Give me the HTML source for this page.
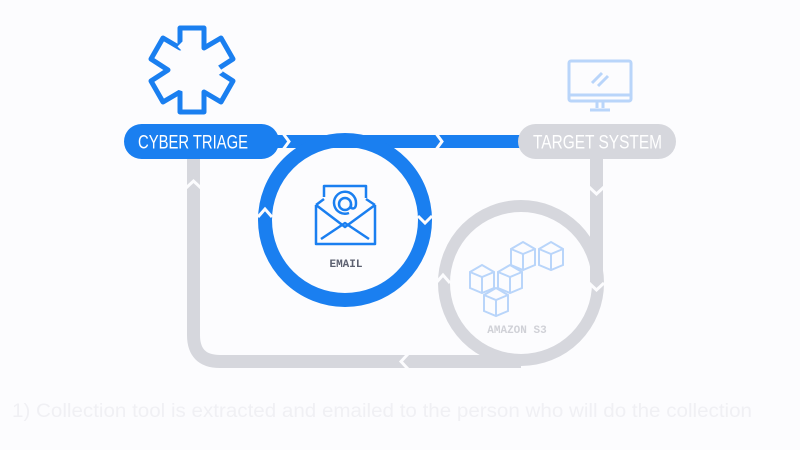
<!DOCTYPE html>
<html><head><meta charset="utf-8"><style>
html,body{margin:0;padding:0;background:#fcfcfe;}
svg{display:block}
</style></head><body>
<svg width="800" height="450" viewBox="0 0 800 450" xmlns="http://www.w3.org/2000/svg">
<defs>
<g id="c"><path d="M0,7 L12,0 L24,7 V23 L12,28 L0,23 Z"/><path d="M0,7 L12,12 L24,7 M12,12 V28" fill="none"/></g>
</defs>
<rect width="800" height="450" fill="#fcfcfe"/>
<!-- gray loop -->
<path d="M193.5 158 V335 Q193.5 361.5 220 361.5 H521" fill="none" stroke="#d6d7dd" stroke-width="13"/>
<path d="M596.5 158 V285" fill="none" stroke="#d6d7dd" stroke-width="13"/>
<circle cx="521" cy="283" r="77" fill="none" stroke="#d6d7dd" stroke-width="12"/>
<!-- blue bar -->
<rect x="270" y="135" width="255" height="13" fill="#1a7ff0"/>
<circle cx="345" cy="220" r="80" fill="none" stroke="#1a7ff0" stroke-width="14"/>
<!-- chevrons (white notches) -->
<g fill="none" stroke="#fcfcfe" stroke-width="3">
<polyline points="282,132 289,141.5 282,151"/>
<polyline points="435,132 442,141.5 435,151"/>
<polyline points="186,188 193.5,181 201,188"/>
<polyline points="589,187 596.5,194 604,187"/>
<polyline points="589,283 596.5,290 604,283"/>
<polyline points="408,354 401,361.5 408,369"/>
<polyline points="258,217 265,209 272,217"/>
<polyline points="418,216 425,223 432,216"/>
<polyline points="436,283 443,275 450,283"/>
</g>
<!-- pills -->
<rect x="124" y="124" width="155" height="35" rx="17.5" fill="#1a7ff0"/>
<text x="138" y="148.5" textLength="110" lengthAdjust="spacingAndGlyphs" font-family="Liberation Sans, sans-serif" font-size="19" fill="#fff">CYBER TRIAGE</text>
<rect x="518" y="124" width="158" height="35" rx="17.5" fill="#d6d7dd"/>
<text x="533" y="148.5" textLength="129" lengthAdjust="spacingAndGlyphs" font-family="Liberation Sans, sans-serif" font-size="19" fill="#fff">TARGET SYSTEM</text>
<!-- cyber triage icon -->
<g transform="translate(192,70)" fill="none" stroke="#1a7ff0" stroke-width="5" stroke-linejoin="round">
<path d="M-12,-42 H12 V-22 L29,-32 L41,-11 L24,0 L41,11 L29,32 L12,22 V42 H-12 V22 L-29,32 L-41,11 L-24,0 L-41,-11 L-29,-32 L-12,-22 Z"/>
</g>
<g stroke="#fcfcfe" stroke-width="7" fill="none">
<line x1="180" y1="44" x2="192" y2="56"/><line x1="208" y1="58" x2="220" y2="74"/><line x1="172" y1="84" x2="190" y2="90"/>
</g>
<!-- monitor -->
<g fill="none" stroke="#b9d5fa" stroke-width="3">
<rect x="569" y="61" width="62" height="40" rx="2"/>
<line x1="569" y1="95" x2="631" y2="95"/>
<line x1="597" y1="101" x2="597" y2="108"/><line x1="603" y1="101" x2="603" y2="108"/>
<line x1="590" y1="110" x2="610" y2="110"/>
<line x1="592" y1="83" x2="602" y2="73"/><line x1="598" y1="86" x2="608" y2="76"/>
</g>
<!-- envelope -->
<g fill="none" stroke="#1a7ff0" stroke-width="2.5" stroke-linejoin="round">
<path d="M316,205 L316,244 H375 V205"/>
<path d="M324,197 V186 H366 V198"/>
<path d="M316,205 L324,199 M375,205 L366,199"/>
<path d="M316,205 L345,227 L375,205"/>
<path d="M321,239 L345,223 L369,239"/>
<circle cx="345" cy="204" r="6"/>
<path d="M351,204 V208 Q356,210 356,203 A11,11 0 1 0 349,213"/>
</g>
<text x="346" y="267" text-anchor="middle" font-family="Liberation Mono, monospace" font-size="11" font-weight="bold" fill="#5c6070">EMAIL</text>
<!-- cubes -->
<g fill="#fcfcfe" stroke="#b9d5fa" stroke-width="2">
<use href="#c" x="511" y="242"/><use href="#c" x="539" y="242"/>
<use href="#c" x="470" y="265"/><use href="#c" x="498" y="265"/>
<use href="#c" x="484" y="288"/>
</g>
<text x="517" y="333" text-anchor="middle" font-family="Liberation Mono, monospace" font-size="11" font-weight="bold" fill="#d0d1d7">AMAZON S3</text>
<text x="12" y="417" textLength="740" lengthAdjust="spacingAndGlyphs" font-family="Liberation Sans, sans-serif" font-size="19" fill="#f0f0f4">1) Collection tool is extracted and emailed to the person who will do the collection</text>
</svg>
</body></html>
